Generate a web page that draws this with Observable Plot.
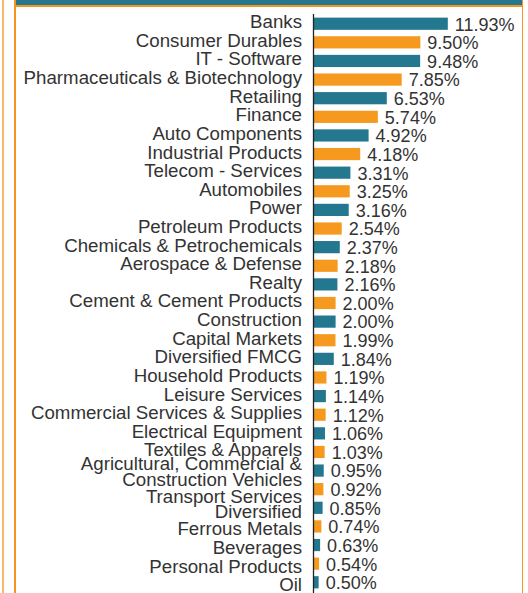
<!DOCTYPE html>
<html>
<head>
<meta charset="utf-8">
<script src="https://cdn.jsdelivr.net/npm/d3@7"></script>
<script src="https://cdn.jsdelivr.net/npm/@observablehq/plot@0.6"></script>
<style>
  html, body { margin: 0; padding: 0; background: #fff; overflow: hidden; width: 528px; height: 593px; }
  #wrap { position: relative; width: 528px; height: 593px; overflow: hidden; }
  .ln { position: absolute; }
  #chart { position: absolute; left: 0; top: 0; }
</style>
</head>
<body>
<div id="wrap">
  <div id="chart"></div>
  <div class="ln" style="left:2px;top:0;width:1.6px;height:593px;background:#f9b96b"></div>
  <div class="ln" style="left:14px;top:0;width:1.6px;height:593px;background:#f7941d"></div>
  <div class="ln" style="left:521.6px;top:0;width:1.6px;height:593px;background:#f7941d"></div>
  <div class="ln" style="left:15.6px;top:0;width:506px;height:5.2px;background:#23778f"></div>
  <div class="ln" style="left:15.6px;top:5.2px;width:506px;height:1.5px;background:#f7941d"></div>
</div>
<script>
const sectors = [
  "Banks", "Consumer Durables", "IT - Software", "Pharmaceuticals & Biotechnology",
  "Retailing", "Finance", "Auto Components", "Industrial Products",
  "Telecom - Services", "Automobiles", "Power", "Petroleum Products",
  "Chemicals & Petrochemicals", "Aerospace & Defense", "Realty",
  "Cement & Cement Products", "Construction", "Capital Markets", "Diversified FMCG",
  "Household Products", "Leisure Services", "Commercial Services & Supplies",
  "Electrical Equipment", "Textiles & Apparels",
  "Agricultural, Commercial & Construction Vehicles", "Transport Services",
  "Diversified", "Ferrous Metals", "Beverages", "Personal Products", "Oil"
];
const weights = [
  11.93, 9.50, 9.48, 7.85, 6.53, 5.74, 4.92, 4.18, 3.31, 3.25, 3.16, 2.54,
  2.37, 2.18, 2.16, 2.00, 2.00, 1.99, 1.84, 1.19, 1.14, 1.12, 1.06, 1.03,
  0.95, 0.92, 0.85, 0.74, 0.63, 0.54, 0.50
];
const wrappedLabels = {
  "Agricultural, Commercial & Construction Vehicles": "Agricultural, Commercial &\nConstruction Vehicles"
};
// label nudges (px): labels below the wrapped one are pushed down, as in the original
const labelNudge = {
  "Textiles & Apparels": -1.8,
  "Agricultural, Commercial & Construction Vehicles": 1.8,
  "Transport Services": 7.8,
  "Diversified": 4.8,
  "Ferrous Metals": 2.7,
  "Beverages": 2.9,
  "Personal Products": 3.7,
  "Oil": 3.0
};
const palette = ["#23778f", "#f5991f"];

const data = sectors.map((s, i) => ({sector: s, weight: weights[i], group: i % 2}));

const labelMarks = sectors.map((s) =>
  Plot.text([s], {
    x: () => 0, y: d => d,
    text: d => wrappedLabels[d] ?? d,
    textAnchor: "end", dx: -11.5,
    dy: labelNudge[s] ?? -1.2,
    fontSize: 18.7, fill: "#333", lineHeight: 0.86
  })
);

const chart = Plot.plot({
  width: 528,
  height: 596,
  marginLeft: 313,
  marginRight: 45.5,
  marginTop: 11.2,
  marginBottom: 1.2,
  style: {fontFamily: "'Liberation Sans', Arial, sans-serif", background: "transparent"},
  x: {domain: [0, 15], axis: null},
  y: {domain: sectors, padding: 0.345, round: false, axis: null},
  marks: [
    Plot.barX(data, {x: "weight", y: "sector", fill: d => palette[d.group]}),
    Plot.ruleX([0], {stroke: "#222", strokeWidth: 1.3, insetTop: 2.8}),
    ...labelMarks,
    Plot.text(data, {
      x: "weight", y: "sector",
      text: d => d.weight.toFixed(2) + "%",
      textAnchor: "start", dx: 6.5, dy: 0.6, fontSize: 18, fill: "#333"
    })
  ]
});
document.getElementById("chart").appendChild(chart);
</script>
</body>
</html>
